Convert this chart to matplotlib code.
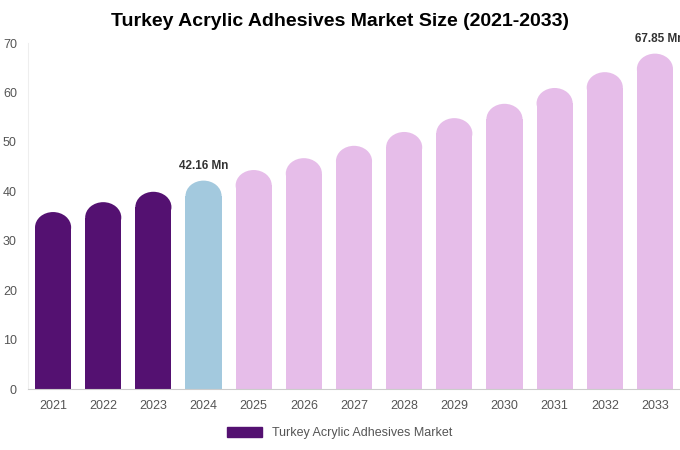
import matplotlib
matplotlib.use("Agg")
import matplotlib.pyplot as plt
from matplotlib.patches import Ellipse, Patch

plt.rcParams['font.family'] = ['Liberation Sans', 'DejaVu Sans']

years = ["2021","2022","2023","2024","2025","2026","2027","2028","2029","2030","2031","2032","2033"]
values = [35.8, 37.8, 39.9, 42.16, 44.3, 46.7, 49.2, 52.0, 54.8, 57.7, 60.9, 64.1, 67.85]
colors = ["#541171"]*3 + ["#a3c9de"] + ["#e6bde9"]*9
labels = {3: "42.16 Mn", 12: "67.85 Mn"}

fig = plt.figure(figsize=(6.8, 4.5), dpi=100)
ax = fig.add_axes([28/680, 1-389/450, 652/680, 346/450])
ax.set_xlim(-0.5, 12.5)
ax.set_ylim(0, 70)
w = 0.72
px_per_x = 652/13
px_per_y = 346/70
r = 0.85*(w/2*px_per_x)/px_per_y
for i, (v, c) in enumerate(zip(values, colors)):
    ax.bar(i, v - r, width=w, color=c, linewidth=0)
    ax.add_patch(Ellipse((i, v - r), w, 2*r, color=c, linewidth=0))
    if i in labels:
        ax.text(i + (0.1 if i == 12 else 0), v + 1.8, labels[i], ha="center", va="bottom",
                fontsize=8.5, fontweight="bold", color="#333333", clip_on=False)
ax.set_xticks(range(len(years)))
ax.set_xticklabels(years)
ax.set_yticks(range(0, 71, 10))
ax.tick_params(length=0, labelsize=9, colors="#555555", pad=8)
for s in ["top", "right"]:
    ax.spines[s].set_visible(False)
ax.spines["left"].set_color("#eeeeee")
ax.spines["bottom"].set_color("#cccccc")
fig.text(0.5, 1-21/450, "Turkey Acrylic Adhesives Market Size (2021-2033)",
         ha="center", va="center", fontsize=14, fontweight="bold")
fig.legend(handles=[Patch(color="#541171", label="Turkey Acrylic Adhesives Market")],
           loc="center", bbox_to_anchor=(0.5, 1-433/450), frameon=False,
           fontsize=9, handlelength=2.8, handleheight=0.9, labelcolor="#555555")
fig.savefig("out.png", dpi=100)
